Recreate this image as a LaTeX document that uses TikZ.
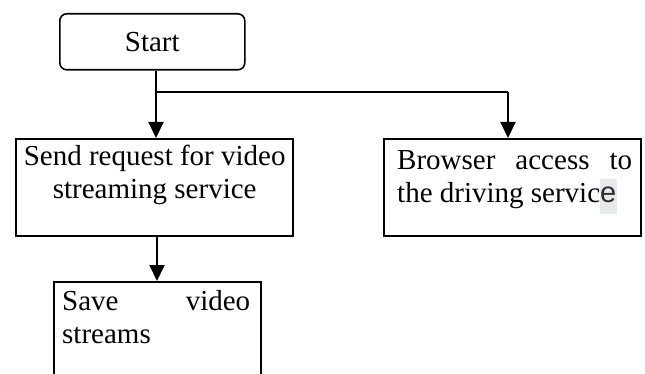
\documentclass[tikz,border=0pt]{standalone}
\usepackage{fontspec}
\setmainfont{Liberation Serif}
\newfontfamily\hlsans{Liberation Sans}
\usetikzlibrary{arrows.meta}
\definecolor{hlgray}{RGB}{232,233,237}
\definecolor{egray}{RGB}{45,45,50}
\newcommand\ehl{\rlap{\color{hlgray}\rule[-11pt]{17pt}{35pt}}{\hlsans\color{egray}e}}
\begin{document}
\begin{tikzpicture}[x=1pt,y=1pt,
  boxst/.style={draw, line width=1.6pt, inner sep=0pt, anchor=north west},
  txt/.style={inner sep=0pt, anchor=base west, font=\fontsize{29pt}{33pt}\selectfont},
  conn/.style={line width=2pt, -{Triangle[length=16pt,width=15pt]}},
  link/.style={line width=2pt}]
\clip (0,0) rectangle (645,-374);
\fill[white] (0,0) rectangle (645,-374);
% boxes
\node[boxst, rounded corners=7pt, minimum width=185pt, minimum height=56pt,
      font=\fontsize{29pt}{33pt}\selectfont] (start) at (59,-13) {Start};
\node[boxst, minimum width=277pt, minimum height=97pt] (send) at (15,-138) {};
\node[boxst, minimum width=257pt, minimum height=97pt] (browser) at (383,-138) {};
\node[boxst, minimum width=207pt, minimum height=130pt] (save) at (53,-281) {};
% texts
\node[txt] (sendtxt) at (23,-166) {\parbox[t]{263pt}{\centering Send request for video\\ streaming service}};
\node[txt] (browsertxt) at (397,-170) {\parbox[t]{235pt}{\makebox[235pt][s]{Browser access to}\\ the driving servic\ehl}};
\node[txt] (savetxt) at (62,-310) {\parbox[t]{188pt}{\makebox[188pt][s]{Save video}\\ streams}};
% connectors
\coordinate (j) at (156,-92);
\coordinate (bj) at (508,-92);
\coordinate (k) at (157,0);
\draw[link] (start.south -| j) -- (j) -- (bj);
\draw[conn] (j) -- (send.north -| j);
\draw[conn] (bj) -- (browser.north -| bj);
\draw[conn] (send.south -| k) -- (save.north -| k);
\end{tikzpicture}
\end{document}
